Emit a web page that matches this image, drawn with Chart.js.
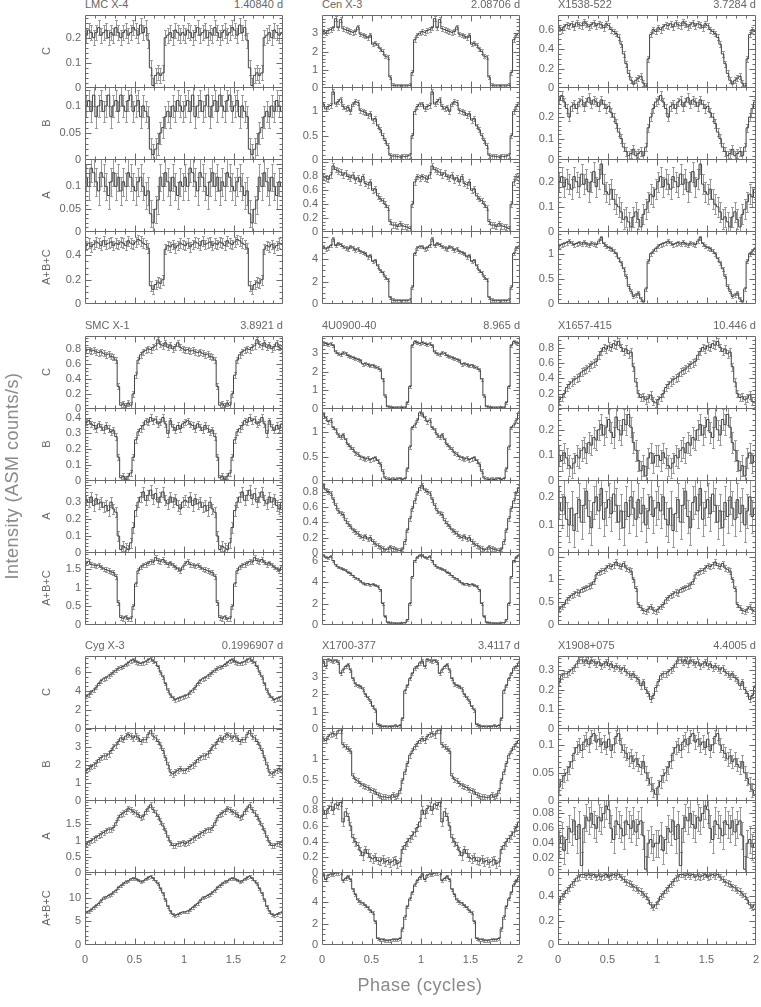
<!DOCTYPE html>
<html>
<head>
<meta charset="utf-8">
<script src="https://cdn.jsdelivr.net/npm/chart.js@4.4.0/dist/chart.umd.min.js"></script>
<style>
  body { margin: 0; background: #fff; }
  #page { position: relative; width: 761px; height: 1007px; overflow: hidden;
          font-family: "Liberation Sans", Arial, sans-serif; color: #666; }
  #page canvas { position: absolute; }
  .txt { position: absolute; font-size: 11px; line-height: 12px; white-space: nowrap; }
  .rot { position: absolute; text-align: center; transform: rotate(-90deg); white-space: nowrap; }
</style>
</head>
<body>
<div id="page"></div>
<script>
// phase bins per cycle, the folded curve is shown twice (phase 0-2)
const BINS = 40;

const sourceNames = ['LMC X-4', 'Cen X-3', 'X1538-522', 'SMC X-1', '4U0900-40', 'X1657-415', 'Cyg X-3', 'X1700-377', 'X1908+075'];
const periods = ['1.40840 d', '2.08706 d', '3.7284 d', '3.8921 d', '8.965 d', '10.446 d', '0.1996907 d', '3.4117 d', '4.4005 d'];
const bandNames = ['C', 'B', 'A', 'A+B+C'];
const phaseTicks = [0, 0.5, 1, 1.5, 2];

// LMC X-4
const lmcC = [0.21,0.23,0.22,0.20,0.22,0.24,0.21,0.22,0.23,0.20, 0.22,0.21,0.24,0.22,0.20,0.22,0.23,0.21,0.22,0.24, 0.23,0.21,0.25,0.22,0.24,0.19,0.08,0.01,0.05,0.06, 0.05,0.06,0.20,0.21,0.22,0.20,0.23,0.22,0.21,0.22];
const lmcB = [0.10,0.11,0.09,0.12,0.08,0.10,0.11,0.09,0.10,0.12, 0.08,0.10,0.11,0.09,0.12,0.10,0.09,0.11,0.12,0.09, 0.10,0.11,0.08,0.10,0.09,0.08,0.02,0.01,0.02,0.03, 0.05,0.06,0.08,0.09,0.08,0.10,0.09,0.11,0.10,0.09];
const lmcA = [0.12,0.10,0.14,0.13,0.11,0.09,0.13,0.12,0.10,0.08, 0.11,0.13,0.10,0.12,0.09,0.11,0.10,0.13,0.12,0.10, 0.09,0.11,0.12,0.10,0.08,0.09,0.04,0.02,0.05,0.07, 0.12,0.10,0.13,0.11,0.09,0.12,0.10,0.08,0.11,0.10];
const lmcSum = [0.48,0.50,0.47,0.49,0.51,0.50,0.48,0.52,0.49,0.50, 0.51,0.48,0.50,0.49,0.51,0.50,0.48,0.52,0.50,0.49, 0.51,0.53,0.52,0.50,0.49,0.46,0.15,0.12,0.16,0.18, 0.17,0.20,0.45,0.48,0.47,0.49,0.46,0.48,0.50,0.49];

// Cen X-3
const cenC = [3.10,3.05,3.15,3.20,3.30,3.80,3.30,3.75,3.25,3.20, 3.15,3.10,3.05,3.10,3.35,2.95,2.90,2.85,2.75,2.90, 2.40,2.45,2.35,2.15,2.00,1.75,1.70,0.60,0.15,0.12, 0.12,0.12,0.12,0.12,0.12,0.15,0.85,2.65,2.90,3.00];
const cenB = [1.15,1.05,1.10,1.12,1.40,1.15,1.20,1.25,1.10,1.05, 1.08,1.00,1.15,1.20,1.18,1.02,1.00,0.98,0.92,0.95, 0.82,0.85,0.70,0.62,0.50,0.40,0.30,0.10,0.08,0.08, 0.07,0.06,0.08,0.07,0.08,0.10,0.50,1.00,1.10,1.15];
const cenA = [0.80,0.78,0.76,0.82,0.95,0.90,0.88,0.86,0.82,0.85, 0.80,0.78,0.82,0.75,0.78,0.72,0.80,0.70,0.68,0.72, 0.60,0.62,0.52,0.48,0.45,0.40,0.35,0.15,0.10,0.10, 0.08,0.12,0.09,0.08,0.07,0.05,0.40,0.72,0.80,0.78];
const cenSum = [5.10,4.90,5.00,5.20,5.80,5.20,5.40,5.30,5.10,5.00, 4.90,5.10,5.00,4.80,4.90,4.70,4.60,4.50,4.20,4.30, 3.80,3.90,3.40,3.00,2.80,2.40,2.20,0.60,0.35,0.30, 0.30,0.30,0.30,0.30,0.30,0.35,1.50,4.50,5.00,5.10];

// X1538-522
const x1538C = [0.62,0.60,0.63,0.65,0.64,0.66,0.63,0.67,0.65,0.64, 0.68,0.66,0.63,0.65,0.67,0.64,0.66,0.65,0.62,0.66, 0.64,0.60,0.58,0.56,0.52,0.45,0.35,0.25,0.15,0.08, 0.04,0.08,0.10,0.12,0.05,0.02,0.30,0.55,0.60,0.58];
const x1538B = [0.28,0.30,0.27,0.24,0.20,0.25,0.26,0.24,0.27,0.28, 0.25,0.27,0.29,0.26,0.28,0.27,0.25,0.28,0.26,0.24, 0.25,0.22,0.20,0.17,0.13,0.10,0.06,0.04,0.02,0.03, 0.05,0.02,0.03,0.04,0.02,0.06,0.15,0.20,0.24,0.27];
const x1538A = [0.20,0.22,0.18,0.21,0.19,0.17,0.22,0.20,0.18,0.23, 0.19,0.21,0.16,0.20,0.24,0.18,0.21,0.27,0.19,0.16, 0.15,0.17,0.13,0.11,0.10,0.08,0.05,0.06,0.04,0.02, 0.06,0.08,0.05,0.02,0.07,0.09,0.12,0.15,0.14,0.17];
const x1538Sum = [1.15,1.18,1.20,1.22,1.25,1.21,1.18,1.20,1.22,1.19, 1.23,1.20,1.17,1.21,1.19,1.18,1.25,1.32,1.20,1.15, 1.12,1.10,1.05,1.00,0.90,0.82,0.70,0.55,0.35,0.25, 0.15,0.18,0.22,0.10,0.04,0.30,0.85,1.00,1.05,1.10];

// SMC X-1
const smcC = [0.78,0.79,0.77,0.78,0.76,0.75,0.76,0.74,0.72,0.73, 0.70,0.69,0.65,0.30,0.05,0.07,0.04,0.08,0.05,0.20, 0.45,0.65,0.72,0.76,0.78,0.80,0.79,0.82,0.84,0.92, 0.86,0.84,0.88,0.82,0.85,0.80,0.83,0.88,0.82,0.80];
const smcB = [0.37,0.38,0.36,0.35,0.33,0.36,0.34,0.32,0.35,0.33, 0.31,0.32,0.28,0.15,0.02,0.03,0.01,0.03,0.05,0.15, 0.26,0.31,0.33,0.35,0.38,0.37,0.40,0.38,0.39,0.36, 0.37,0.40,0.36,0.30,0.38,0.34,0.32,0.35,0.33,0.36];
const smcA = [0.31,0.30,0.33,0.28,0.32,0.29,0.30,0.27,0.28,0.25, 0.30,0.26,0.24,0.10,0.02,0.04,0.03,0.02,0.06,0.15, 0.25,0.30,0.33,0.36,0.31,0.34,0.37,0.32,0.35,0.30, 0.33,0.36,0.31,0.29,0.33,0.30,0.32,0.28,0.26,0.30];
const smcSum = [1.65,1.70,1.62,1.60,1.58,1.60,1.55,1.50,1.48,1.45, 1.42,1.40,1.30,0.60,0.20,0.18,0.22,0.16,0.18,0.50, 1.10,1.45,1.55,1.60,1.62,1.65,1.70,1.68,1.80,1.72, 1.70,1.75,1.68,1.62,1.66,1.60,1.55,1.50,1.45,1.55];

// 4U0900-40
const velaC = [3.55,3.50,3.45,3.48,3.40,3.05,2.95,2.90,3.00,2.98, 2.85,2.80,2.75,2.70,2.65,2.60,2.40,2.42,2.38,2.30, 2.35,2.25,2.20,2.10,1.60,0.70,0.12,0.10,0.08,0.06, 0.07,0.06,0.08,0.06,0.35,1.20,3.40,3.60,3.55,3.50];
const velaB = [1.38,1.30,1.22,1.25,1.10,1.05,0.95,0.90,0.95,0.85, 0.75,0.70,0.65,0.58,0.55,0.50,0.48,0.45,0.47,0.44, 0.46,0.48,0.42,0.35,0.20,0.06,0.04,0.03,0.04,0.03, 0.04,0.05,0.03,0.05,0.25,0.70,1.10,1.15,1.25,1.40];
const velaA = [0.88,0.82,0.80,0.78,0.70,0.62,0.55,0.52,0.50,0.42, 0.38,0.35,0.30,0.28,0.25,0.22,0.20,0.22,0.18,0.20, 0.15,0.12,0.10,0.08,0.06,0.04,0.05,0.08,0.06,0.05, 0.04,0.03,0.05,0.15,0.30,0.45,0.58,0.68,0.78,0.85];
const velaSum = [6.50,6.30,6.25,6.40,6.00,5.60,5.40,5.30,5.20,5.10, 4.90,4.80,4.60,4.40,4.30,4.10,3.90,3.80,3.85,3.75, 3.80,3.70,3.60,3.30,2.00,0.80,0.25,0.20,0.18,0.16, 0.15,0.16,0.18,0.20,0.50,2.00,4.50,6.00,6.30,6.50];

// X1657-415
const x1657C = [0.12,0.15,0.20,0.28,0.32,0.35,0.38,0.40,0.42,0.48, 0.50,0.52,0.55,0.58,0.60,0.62,0.70,0.75,0.80,0.78, 0.82,0.80,0.85,0.83,0.88,0.80,0.75,0.78,0.72,0.74, 0.55,0.35,0.20,0.15,0.16,0.12,0.14,0.18,0.10,0.08];
const x1657B = [0.10,0.08,0.11,0.09,0.06,0.05,0.07,0.10,0.09,0.12, 0.13,0.11,0.15,0.14,0.17,0.16,0.20,0.22,0.18,0.21, 0.24,0.19,0.17,0.25,0.20,0.18,0.24,0.22,0.26,0.21, 0.15,0.12,0.08,0.04,0.06,0.02,0.09,0.11,0.07,0.10];
const x1657A = [0.18,0.15,0.20,0.12,0.10,0.16,0.08,0.14,0.19,0.11, 0.17,0.22,0.13,0.09,0.18,0.20,0.15,0.23,0.12,0.16, 0.19,0.14,0.21,0.17,0.11,0.15,0.09,0.18,0.13,0.20, 0.16,0.12,0.19,0.14,0.17,0.10,0.15,0.20,0.13,0.16];
const x1657Sum = [0.35,0.40,0.45,0.55,0.60,0.65,0.68,0.72,0.70,0.78, 0.80,0.82,0.85,0.88,0.95,1.10,1.15,1.18,1.20,1.25, 1.30,1.28,1.32,1.38,1.30,1.28,1.35,1.25,1.22,1.18, 1.00,0.80,0.45,0.38,0.32,0.30,0.35,0.40,0.33,0.30];

// Cyg X-3
const cygC = [3.5,3.6,3.9,4.1,4.4,4.8,5.1,5.3,5.4,5.6, 5.8,6.0,6.2,6.4,6.5,6.6,6.8,7.0,7.2,7.3, 7.1,7.0,6.9,7.0,7.1,7.3,7.4,7.2,7.0,6.6, 6.0,5.5,4.8,4.1,3.6,3.3,3.1,3.2,3.3,3.4];
const cygB = [1.7,1.8,1.9,2.0,2.1,2.3,2.4,2.5,2.5,2.6, 2.8,3.0,3.1,3.3,3.5,3.4,3.6,3.7,3.6,3.5, 3.6,3.5,3.3,3.4,3.4,3.7,3.9,3.6,3.5,3.3, 3.1,2.8,2.4,2.0,1.6,1.5,1.6,1.7,1.8,1.7];
const cygA = [0.90,0.95,1.00,1.05,1.10,1.15,1.20,1.25,1.30,1.35, 1.35,1.40,1.55,1.70,1.80,1.85,1.90,2.00,1.95,1.90, 1.85,1.80,1.70,1.75,1.90,2.00,2.10,1.95,1.85,1.75, 1.60,1.45,1.30,1.10,0.95,0.85,0.85,0.90,0.92,0.95];
const cygSum = [7.0,7.2,7.5,8.0,8.4,8.8,9.4,10.0,10.2,10.5, 10.8,11.2,11.6,12.2,12.6,13.0,13.4,13.6,14.0,14.2, 14.0,13.8,13.4,13.6,14.0,14.3,14.6,14.2,13.6,13.0, 12.0,11.0,9.6,8.2,7.2,6.5,6.3,6.5,6.8,7.0];

// X1700-377
const x1700C = [3.90,3.60,4.00,3.95,3.90,3.95,3.85,3.20,3.40,3.60, 3.70,3.40,2.90,2.60,2.50,2.45,2.30,2.00,1.80,1.60, 1.30,1.10,0.25,0.20,0.15,0.15,0.12,0.15,0.15,0.18, 0.15,0.20,0.60,2.20,2.50,2.90,3.20,3.50,3.60,3.80];
const x1700B = [1.50,1.45,1.55,1.60,1.62,1.58,1.68,1.70,1.35,1.30, 1.25,1.20,0.60,0.52,0.48,0.42,0.38,0.35,0.32,0.28, 0.25,0.22,0.15,0.12,0.10,0.10,0.08,0.09,0.15,0.10, 0.12,0.25,0.50,0.70,0.90,1.10,1.20,1.30,1.38,1.45];
const x1700A = [0.80,0.75,0.82,0.85,0.80,0.88,0.86,0.90,0.65,0.78, 0.72,0.60,0.45,0.40,0.35,0.28,0.22,0.30,0.25,0.20, 0.18,0.20,0.16,0.15,0.18,0.14,0.16,0.13,0.15,0.17, 0.12,0.14,0.30,0.35,0.40,0.44,0.48,0.52,0.58,0.65];
const x1700Sum = [6.6,6.1,6.5,6.6,6.6,6.7,6.7,6.8,6.0,6.2, 6.4,6.1,5.2,4.7,4.2,4.0,3.9,3.7,3.5,3.2, 3.0,2.2,0.6,0.5,0.5,0.45,0.4,0.45,0.5,0.5, 0.5,0.6,1.5,2.6,3.6,4.3,4.9,5.6,6.0,6.3];

// X1908+075
const x1908C = [0.24,0.27,0.28,0.28,0.29,0.30,0.31,0.33,0.35,0.35, 0.34,0.35,0.33,0.35,0.34,0.33,0.34,0.32,0.33,0.34, 0.32,0.33,0.31,0.32,0.31,0.30,0.31,0.29,0.28,0.27, 0.28,0.26,0.25,0.22,0.24,0.20,0.18,0.15,0.17,0.21];
const x1908B = [0.025,0.035,0.045,0.050,0.060,0.070,0.085,0.095,0.100,0.090, 0.105,0.110,0.100,0.115,0.120,0.105,0.110,0.100,0.105,0.095, 0.110,0.090,0.100,0.115,0.120,0.100,0.090,0.085,0.075,0.080, 0.070,0.075,0.065,0.060,0.070,0.050,0.040,0.030,0.020,0.012];
const x1908A = [0.040,0.050,0.030,0.045,0.060,0.055,0.070,0.045,0.065,0.010, 0.060,0.075,0.070,0.080,0.065,0.060,0.075,0.070,0.080,0.090, 0.085,0.060,0.045,0.070,0.065,0.060,0.050,0.070,0.065,0.060, 0.070,0.055,0.065,0.070,0.050,0.005,0.040,0.045,0.035,0.040];
const x1908Sum = [0.36,0.40,0.42,0.45,0.47,0.50,0.52,0.55,0.56,0.58, 0.58,0.57,0.58,0.57,0.58,0.56,0.57,0.56,0.57,0.58, 0.56,0.57,0.58,0.57,0.58,0.56,0.54,0.52,0.51,0.50, 0.48,0.47,0.45,0.44,0.42,0.40,0.37,0.33,0.31,0.33];

const curves = [
  [lmcC, lmcB, lmcA, lmcSum],
  [cenC, cenB, cenA, cenSum],
  [x1538C, x1538B, x1538A, x1538Sum],
  [smcC, smcB, smcA, smcSum],
  [velaC, velaB, velaA, velaSum],
  [x1657C, x1657B, x1657A, x1657Sum],
  [cygC, cygB, cygA, cygSum],
  [x1700C, x1700B, x1700A, x1700Sum],
  [x1908C, x1908B, x1908A, x1908Sum]
];

// typical half length of the error bars, one per panel
const errHalf = [
  [0.03, 0.02, 0.03, 0.04],
  [0.12, 0.05, 0.04, 0.15],
  [0.03, 0.02, 0.04, 0.04],
  [0.04, 0.02, 0.03, 0.06],
  [0.08, 0.04, 0.03, 0.10],
  [0.05, 0.04, 0.06, 0.06],
  [0.20, 0.15, 0.08, 0.30],
  [0.10, 0.06, 0.05, 0.15],
  [0.015, 0.012, 0.018, 0.025]
];

// top of each intensity axis
const yMax = [
  [0.29, 0.135, 0.16, 0.6],
  [4.0, 1.5, 1.05, 6.5],
  [0.75, 0.34, 0.29, 1.45],
  [0.97, 0.46, 0.43, 1.95],
  [3.9, 1.5, 0.95, 6.8],
  [0.95, 0.285, 0.26, 1.6],
  [7.7, 4.05, 2.25, 15.5],
  [4.2, 1.75, 0.93, 6.8],
  [0.37, 0.13, 0.098, 0.6]
];

// labelled ticks of each intensity axis
const yTicks = [
  [[0, 0.1, 0.2], [0, 0.05, 0.1], [0, 0.05, 0.1], [0, 0.2, 0.4]],
  [[0, 1, 2, 3], [0, 0.5, 1], [0, 0.2, 0.4, 0.6, 0.8], [0, 2, 4]],
  [[0, 0.2, 0.4, 0.6], [0, 0.1, 0.2], [0, 0.1, 0.2], [0, 0.5, 1]],
  [[0, 0.2, 0.4, 0.6, 0.8], [0, 0.1, 0.2, 0.3, 0.4], [0, 0.1, 0.2, 0.3], [0, 0.5, 1, 1.5]],
  [[0, 1, 2, 3], [0, 0.5, 1], [0, 0.2, 0.4, 0.6, 0.8], [0, 2, 4, 6]],
  [[0, 0.2, 0.4, 0.6, 0.8], [0, 0.1, 0.2], [0, 0.1, 0.2], [0, 0.5, 1]],
  [[0, 2, 4, 6], [0, 1, 2, 3], [0, 0.5, 1, 1.5], [0, 5, 10]],
  [[0, 1, 2, 3], [0, 0.5, 1], [0, 0.2, 0.4, 0.6, 0.8], [0, 2, 4, 6]],
  [[0, 0.1, 0.2, 0.3], [0, 0.05, 0.1], [0, 0.02, 0.04, 0.06, 0.08], [0, 0.2, 0.4]]
];

// layout
const colLeft = [85, 322, 558];
const groupTop = [15, 336, 656];
const PW = 198, PH = 72;
const YW = 40, PAD = 8, PADR = 8, XH = 18;
const FONT = '"Liberation Sans", Arial, sans-serif';
const page = document.getElementById('page');

function addText(text, cls, css) {
  const d = document.createElement('div');
  d.className = cls;
  d.textContent = text;
  Object.assign(d.style, css);
  page.appendChild(d);
  return d;
}

// frame, inward ticks and error bars for one panel
function makeDecor(vals, err, ticks) {
  return {
    id: 'panelDecor',
    beforeDatasetsDraw(chart) {
      const { ctx, chartArea: a, scales: { x, y } } = chart;
      ctx.save();
      ctx.beginPath();
      ctx.rect(a.left, a.top, a.right - a.left, a.bottom - a.top);
      ctx.clip();
      ctx.strokeStyle = '#9a9a9a';
      ctx.lineWidth = 1;
      ctx.beginPath();
      for (let k = 0; k < 2 * vals.length; k++) {
        const v = vals[k % vals.length];
        const px = Math.round(x.getPixelForValue((k + 0.5) / vals.length)) + 0.5;
        const y1 = Math.round(y.getPixelForValue(Math.max(v - err, 0))) + 0.5;
        const y2 = Math.round(y.getPixelForValue(v + err)) + 0.5;
        ctx.moveTo(px, y1); ctx.lineTo(px, y2);
        ctx.moveTo(px - 1.5, y1); ctx.lineTo(px + 1.5, y1);
        ctx.moveTo(px - 1.5, y2); ctx.lineTo(px + 1.5, y2);
      }
      ctx.stroke();
      ctx.restore();
    },
    afterDraw(chart) {
      const { ctx, chartArea: a, scales: { x, y } } = chart;
      const L = Math.round(a.left) + 0.5, R = Math.round(a.right) - 0.5;
      const T = Math.round(a.top) + 0.5, B = Math.round(a.bottom) - 0.5;
      ctx.save();
      ctx.strokeStyle = '#6a6a6a';
      ctx.lineWidth = 1;
      ctx.beginPath();
      ctx.rect(L, T, R - L, B - T);
      // phase ticks every 0.1, longer at each half cycle
      for (let t = 1; t < 20; t++) {
        const px = Math.round(x.getPixelForValue(t / 10)) + 0.5;
        const len = t % 5 === 0 ? 6 : 3;
        ctx.moveTo(px, B); ctx.lineTo(px, B - len);
        ctx.moveTo(px, T); ctx.lineTo(px, T + len);
      }
      // intensity ticks: major at the labels, minor in between
      const step = ticks[1] - ticks[0];
      const lead = Math.round(step / Math.pow(10, Math.floor(Math.log10(step))));
      const minor = step / (lead === 2 ? 4 : 5);
      for (let v = minor; v < y.max - 1e-9; v += minor) {
        const isMajor = Math.abs(v / step - Math.round(v / step)) < 1e-6;
        const py = Math.round(y.getPixelForValue(v)) + 0.5;
        const len = isMajor ? 6 : 3;
        ctx.moveTo(L, py); ctx.lineTo(L + len, py);
        ctx.moveTo(R, py); ctx.lineTo(R - len, py);
      }
      ctx.stroke();
      ctx.restore();
    }
  };
}

for (let g = 0; g < 3; g++) {
  for (let c = 0; c < 3; c++) {
    const s = g * 3 + c;
    const left = colLeft[c], top = groupTop[g];

    addText(sourceNames[s], 'txt', { left: left + 'px', top: (top - 17) + 'px' });
    addText(periods[s], 'txt', { left: (left + PW - 150) + 'px', top: (top - 17) + 'px', width: '150px', textAlign: 'right' });

    for (let b = 0; b < 4; b++) {
      const vals = curves[s][b];
      const ticks = yTicks[s][b];
      const pTop = top + PH * b;
      const showX = g === 2 && b === 3;

      // the folded curve drawn over two cycles, one step per phase bin
      const pts = [];
      for (let k = 0; k < 2 * vals.length; k++) {
        pts.push({ x: k / vals.length, y: vals[k % vals.length] });
      }
      pts.push({ x: 2, y: vals[vals.length - 1] });

      const cv = document.createElement('canvas');
      const w = YW + PW + PADR;
      const h = PAD + PH + 1 + (showX ? XH : 0) + PAD;
      cv.width = w; cv.height = h;
      cv.style.width = w + 'px'; cv.style.height = h + 'px';
      cv.style.left = (left - YW) + 'px';
      cv.style.top = (pTop - PAD) + 'px';
      page.appendChild(cv);

      new Chart(cv, {
        type: 'line',
        data: {
          datasets: [{
            data: pts,
            stepped: true,
            borderColor: '#444',
            borderWidth: 1,
            pointRadius: 0,
            fill: false
          }]
        },
        options: {
          responsive: false,
          animation: false,
          events: [],
          layout: { padding: { top: PAD, bottom: PAD, left: 0, right: PADR } },
          plugins: { legend: { display: false }, tooltip: { enabled: false } },
          scales: {
            x: {
              type: 'linear', min: 0, max: 2, display: showX,
              grid: { display: false, drawTicks: false }, border: { display: false },
              afterBuildTicks: sc => { sc.ticks = phaseTicks.map(v => ({ value: v })); },
              afterFit: sc => {
                if (showX) sc.height = XH;
                sc.paddingLeft = 0; sc.paddingRight = 0;
              },
              ticks: { autoSkip: false, maxRotation: 0, minRotation: 0, padding: 8, color: '#666',
                       font: { family: FONT, size: 11 }, callback: v => String(v) }
            },
            y: {
              type: 'linear', min: 0, max: yMax[s][b],
              grid: { display: false, drawTicks: false }, border: { display: false },
              afterBuildTicks: sc => { sc.ticks = ticks.map(v => ({ value: v })); },
              afterFit: sc => {
                sc.width = YW;
                sc.paddingTop = 0; sc.paddingBottom = 0;
              },
              ticks: { autoSkip: false, padding: 4, color: '#666',
                       font: { family: FONT, size: 11 }, callback: v => String(v) }
            }
          }
        },
        plugins: [makeDecor(vals, errHalf[s][b], ticks)]
      });

      if (c === 0) {
        addText(bandNames[b], 'rot', { left: (46 - 40) + 'px', top: (pTop + PH / 2 - 7) + 'px',
                                       width: '80px', fontSize: '11px', lineHeight: '14px' });
      }
    }
  }
}

addText('Intensity (ASM counts/s)', 'rot', { left: (12 - 150) + 'px', top: (476 - 11) + 'px', width: '300px',
                                            fontSize: '18px', lineHeight: '22px', color: '#8a8a8a', letterSpacing: '0.5px' });
addText('Phase (cycles)', 'txt', { left: '270px', top: '974px', width: '300px', textAlign: 'center',
                                   fontSize: '18px', lineHeight: '22px', color: '#8a8a8a', letterSpacing: '0.5px' });
</script>
</body>
</html>
